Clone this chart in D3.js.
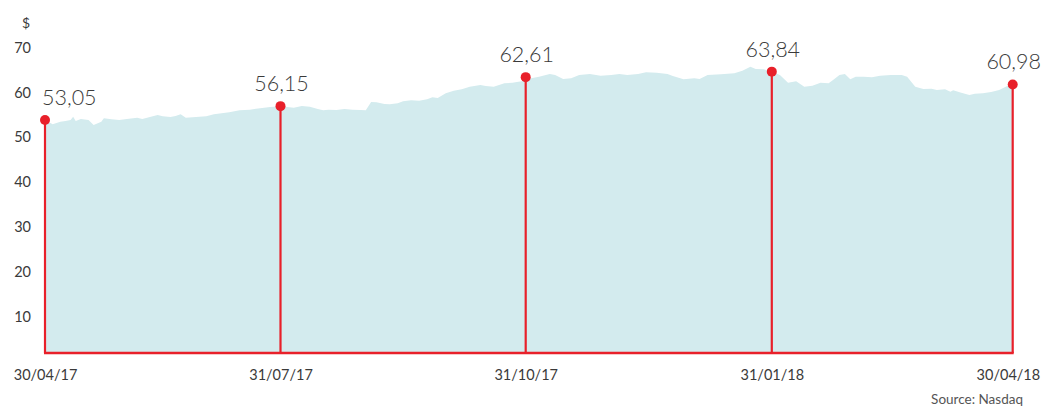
<!DOCTYPE html>
<html>
<head>
<meta charset="utf-8">
<script src="https://cdn.jsdelivr.net/npm/d3@7"></script>
<style>
  html, body { margin: 0; padding: 0; background: #fff; }
  svg { display: block; font-family: "Lato", "Open Sans", sans-serif; }
</style>
</head>
<body>
<svg id="chart" width="1041" height="406"></svg>
<script>
// ---- data ----
const keyDates = ["2017-04-30", "2017-07-31", "2017-10-31", "2018-01-31", "2018-04-30"];
const keyValues = [53.05, 56.15, 62.61, 63.84, 60.98];
const keyLabels = ["53,05", "56,15", "62,61", "63,84", "60,98"];
const xTickLabels = ["30/04/17", "31/07/17", "31/10/17", "31/01/18", "30/04/18"];
const yTickValues = [10, 20, 30, 40, 50, 60, 70];
const unitLabel = "$";
const sourceText = "Source: Nasdaq";

const priceDates = [
  "2017-04-30","2017-05-03","2017-05-06","2017-05-08","2017-05-10","2017-05-11","2017-05-12","2017-05-14",
  "2017-05-17","2017-05-19","2017-05-22","2017-05-23","2017-05-26","2017-05-29","2017-06-01","2017-06-05",
  "2017-06-07","2017-06-10","2017-06-13","2017-06-15","2017-06-18","2017-06-20","2017-06-22","2017-06-24",
  "2017-06-28","2017-07-02","2017-07-05","2017-07-08","2017-07-11","2017-07-15","2017-07-19","2017-07-23",
  "2017-07-27","2017-07-31",
  "2017-08-05","2017-08-08","2017-08-11","2017-08-14","2017-08-16","2017-08-18","2017-08-21","2017-08-24",
  "2017-08-27","2017-08-30","2017-09-01","2017-09-03","2017-09-05","2017-09-08","2017-09-10","2017-09-13",
  "2017-09-15","2017-09-18","2017-09-21","2017-09-24","2017-09-26","2017-09-28","2017-10-01","2017-10-04",
  "2017-10-07","2017-10-10","2017-10-14","2017-10-16","2017-10-19","2017-10-23","2017-10-26","2017-10-30",
  "2017-10-31",
  "2017-11-02","2017-11-05","2017-11-09","2017-11-11","2017-11-14","2017-11-17","2017-11-20","2017-11-24",
  "2017-11-28","2017-12-02","2017-12-05","2017-12-08","2017-12-12","2017-12-15","2017-12-19","2017-12-23",
  "2017-12-25","2017-12-29","2018-01-02","2018-01-04","2018-01-07","2018-01-12","2018-01-17","2018-01-20",
  "2018-01-23","2018-01-25","2018-01-28","2018-01-31",
  "2018-02-03","2018-02-06","2018-02-09","2018-02-12","2018-02-15","2018-02-18","2018-02-21","2018-02-23",
  "2018-02-25","2018-02-27","2018-03-01","2018-03-03","2018-03-06","2018-03-09","2018-03-12","2018-03-16",
  "2018-03-20","2018-03-22","2018-03-25","2018-03-28","2018-03-31","2018-04-02","2018-04-05","2018-04-07",
  "2018-04-08","2018-04-11","2018-04-14","2018-04-16","2018-04-19","2018-04-22","2018-04-25","2018-04-28",
  "2018-04-30"
];
const priceValues = [
  53.05,52.10,52.68,52.83,53.06,53.79,52.83,53.28,
  53.06,51.94,52.68,53.44,53.21,53.06,53.28,53.57,
  53.28,53.73,54.17,53.88,53.73,53.95,54.33,53.57,
  53.73,53.88,54.33,54.55,54.77,55.22,55.35,55.67,
  55.96,56.15,
  55.80,56.18,56.02,55.51,55.22,55.35,55.29,55.51,
  55.35,55.29,55.22,57.07,57.00,56.62,56.56,56.78,
  57.23,57.45,57.36,57.67,58.12,57.96,59.01,59.59,
  59.90,60.48,60.86,60.64,60.48,61.24,61.37,61.75,
  62.10,
  62.35,62.71,63.31,63.09,62.20,62.35,63.09,63.31,
  62.93,63.09,63.31,63.09,63.31,63.69,63.60,63.31,
  62.87,62.13,62.35,62.20,63.09,63.25,63.47,64.05,
  64.94,64.43,64.36,63.80,
  63.09,61.37,61.68,60.48,60.70,61.37,61.24,62.13,
  63.09,63.31,62.13,62.71,62.71,62.58,62.93,63.09,
  63.09,62.71,60.48,59.97,60.04,59.75,59.90,59.37,
  59.68,59.14,58.63,58.92,59.01,59.30,59.75,60.64,
  60.98
];

// ---- layout ----
const bottom = 352;
const xStops = [45, 280.5, 525.7, 771.8, 1012.7];
const red = "#e8202a";
const fillBlue = "#d3ebee";
const textColor = "#3a3a3a";

const parse = d3.timeParse("%Y-%m-%d");
const kDates = keyDates.map(parse);
const series = priceDates.map((d, i) => ({ date: parse(d), value: priceValues[i] }));
const keys = kDates.map((d, i) => ({ date: d, value: keyValues[i], label: keyLabels[i] }));

const x = d3.scaleTime().domain(kDates).range(xStops);
const y = d3.scaleLinear().domain([0, 70]).range([358, 44]);

const svg = d3.select("#chart");

// area
const area = d3.area()
  .x(d => x(d.date))
  .y0(bottom)
  .y1(d => y(d.value));
svg.append("path")
  .datum(series)
  .attr("d", area)
  .attr("fill", fillBlue);

// y axis labels
const yAxis = d3.axisLeft(y).tickValues(yTickValues).tickSize(0).tickPadding(0).tickFormat(d3.format("d"));
const gy = svg.append("g").attr("transform", "translate(31,0)").call(yAxis);
gy.select(".domain").remove();
gy.selectAll("text")
  .attr("dy", "0.57em")
  .attr("fill", textColor)
  .style("font-size", "14.5px")
  .style("font-family", "Lato, sans-serif");

svg.append("text")
  .attr("x", 26).attr("y", 28)
  .attr("text-anchor", "middle")
  .attr("fill", textColor)
  .style("font-size", "14px")
  .text(unitLabel);

// x axis labels
const xAxis = d3.axisBottom(x).tickValues(kDates).tickSize(0).tickPadding(18)
  .tickFormat((d, i) => xTickLabels[i]);
const gx = svg.append("g").attr("transform", `translate(0,${bottom})`).call(xAxis);
gx.select(".domain").remove();
gx.selectAll("text")
  .attr("fill", textColor)
  .style("font-size", "14.5px")
  .style("font-family", "Lato, sans-serif");
gx.selectAll(".tick").filter((d, i) => i === xTickLabels.length - 1).select("text")
  .attr("text-anchor", "end")
  .attr("dx", 27);

// baseline
svg.append("line")
  .attr("x1", x(kDates[0]) - 1).attr("x2", x(kDates[kDates.length - 1]) + 1)
  .attr("y1", bottom + 1).attr("y2", bottom + 1)
  .attr("stroke", red).attr("stroke-width", 2.5);

// stems
svg.selectAll(".stem").data(keys).enter().append("line")
  .attr("class", "stem")
  .attr("x1", d => x(d.date)).attr("x2", d => x(d.date))
  .attr("y1", d => y(d.value)).attr("y2", bottom + 1)
  .attr("stroke", red).attr("stroke-width", 2.2);

// dots
svg.selectAll(".dot").data(keys).enter().append("circle")
  .attr("class", "dot")
  .attr("cx", d => x(d.date)).attr("cy", d => y(d.value))
  .attr("r", 5)
  .attr("fill", red);

// value labels
svg.selectAll(".vlabel").data(keys).enter().append("text")
  .attr("class", "vlabel")
  .attr("x", (d, i) => i === 0 ? x(d.date) - 3 : x(d.date) + 1)
  .attr("y", d => y(d.value) - 15)
  .attr("text-anchor", (d, i) => i === 0 ? "start" : "middle")
  .attr("fill", textColor)
  .style("font-size", "21.5px")
  .style("font-weight", 300)
  .text(d => d.label);

// source
svg.append("text")
  .attr("x", 1023).attr("y", 404)
  .attr("text-anchor", "end")
  .attr("fill", "#555")
  .style("font-size", "13.5px")
  .text(sourceText);
</script>
</body>
</html>
